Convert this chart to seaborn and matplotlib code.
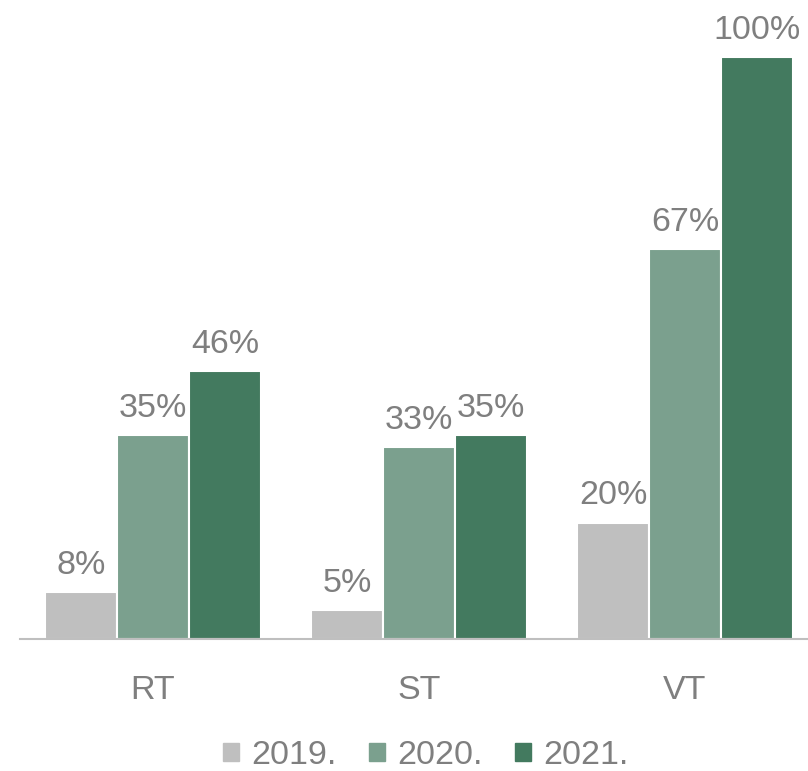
import pandas as pd
import matplotlib.pyplot as plt
import seaborn as sns

# Values
categories = ['RT', 'ST', 'VT']
years = ['2019.', '2020.', '2021.']
v2019 = [8, 5, 20]
v2020 = [35, 33, 67]
v2021 = [46, 35, 100]
colors = ['#BFBFBF', '#7BA08E', '#437A5F']

df = pd.DataFrame({
    'cat': categories * 3,
    'year': [years[0]] * 3 + [years[1]] * 3 + [years[2]] * 3,
    'val': v2019 + v2020 + v2021,
})

sns.set_style('white')
plt.rcParams['font.family'] = ['Liberation Sans', 'DejaVu Sans']
text_col = '#7F7F7F'
fs = 24.5

fig = plt.figure(figsize=(8.08, 7.71), dpi=100)
ax = fig.add_axes([20 / 808, 132 / 771, 798 / 808, 639 / 771])

sns.barplot(data=df, x='cat', y='val', hue='year', palette=colors, saturation=1,
            width=0.81, edgecolor='white', linewidth=1.5, ax=ax, legend=False)

for cont in ax.containers:
    ax.bar_label(cont, fmt='%d%%', padding=8, fontsize=fs, color=text_col)

ax.set_ylim(0, 100 * 639 / 582)
ax.set_xlim(-0.5, 2.5)
ax.set_xlabel('')
ax.set_ylabel('')
ax.set_yticks([])
for s in ['top', 'right', 'left']:
    ax.spines[s].set_visible(False)
ax.spines['bottom'].set_color('#BFBFBF')
ax.spines['bottom'].set_linewidth(1.5)
ax.tick_params(axis='x', length=0, pad=26, labelsize=fs, labelcolor=text_col)

handles = [plt.Rectangle((0, 0), 1, 1, color=c) for c in colors]
leg = fig.legend(handles, years, loc='center', bbox_to_anchor=(0.527, 0.02),
                 ncol=3, frameon=False, fontsize=fs, handlelength=0.48,
                 handleheight=0.48, handletextpad=0.35, columnspacing=0.95)
for t in leg.get_texts():
    t.set_color(text_col)

fig.savefig('out.png', dpi=100)
